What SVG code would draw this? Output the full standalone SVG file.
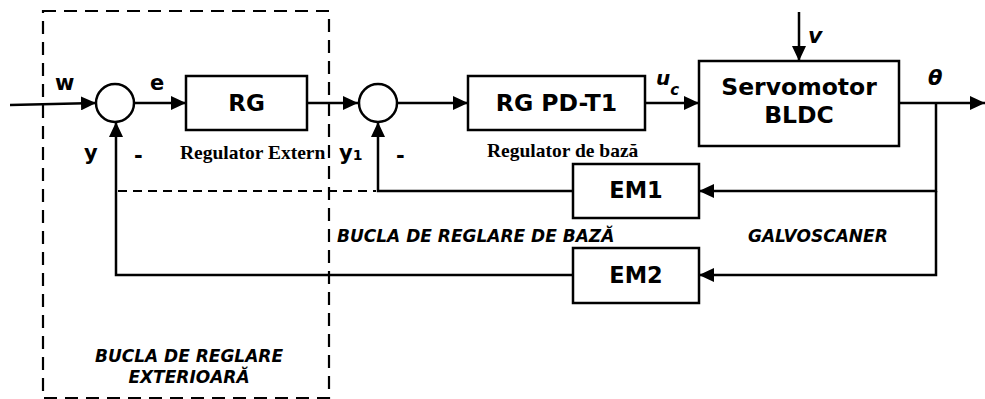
<svg xmlns="http://www.w3.org/2000/svg" width="985" height="399" viewBox="0 0 985 399">
<style>
.box{fill:#fff;stroke:#000;stroke-width:2.5}
.ln{fill:none;stroke:#000;stroke-width:2.5}
.dash{fill:none;stroke:#000;stroke-width:2.2;stroke-dasharray:13 8}
.t{font-family:"DejaVu Sans",Verdana,sans-serif;font-weight:bold;fill:#000}
.bi{font-family:"DejaVu Sans",Verdana,sans-serif;font-weight:bold;font-style:italic;fill:#000}
.s{font-family:"Liberation Serif","Times New Roman",serif;font-weight:bold;fill:#000}
</style>
<defs>
<marker id="ah" markerUnits="userSpaceOnUse" markerWidth="15" markerHeight="14" refX="15" refY="7" orient="auto">
<path d="M0,0 L15,7 L0,14 z" fill="#000"/>
</marker>
</defs>
<rect x="0" y="0" width="985" height="399" fill="#fff"/>
<g id="outer-loop-frame">
<rect class="dash" x="43" y="11" width="286" height="387"/>
</g>
<g id="connectors">
<line class="ln" x1="10" y1="105" x2="96" y2="103" marker-end="url(#ah)"/>
<line class="ln" x1="134" y1="103" x2="186" y2="103" marker-end="url(#ah)"/>
<line class="ln" x1="307" y1="103" x2="358" y2="103" marker-end="url(#ah)"/>
<line class="ln" x1="397" y1="103" x2="468" y2="103" marker-end="url(#ah)"/>
<line class="ln" x1="645" y1="103" x2="699" y2="103" marker-end="url(#ah)"/>
<line class="ln" x1="799" y1="12" x2="799" y2="61" marker-end="url(#ah)"/>
<line class="ln" x1="899" y1="103" x2="985" y2="103" marker-end="url(#ah)"/>
<polyline class="ln" points="936,103 936,191 699,191" marker-end="url(#ah)"/>
<polyline class="ln" points="936,191 936,275 699,275" marker-end="url(#ah)"/>
<polyline class="ln" points="573,191 378,191 378,122" marker-end="url(#ah)"/>
<polyline class="ln" points="573,275 116,275 116,122" marker-end="url(#ah)"/>
<line class="dash" x1="118" y1="191" x2="376" y2="191" style="stroke-dasharray:9 6"/>
</g>
<g id="sum1"><circle class="box" cx="115" cy="103" r="19"/></g>
<g id="sum2"><circle class="box" cx="378" cy="103" r="19"/></g>
<g id="RG">
<rect class="box" x="186" y="76" width="121" height="54"/>
<text class="t" x="246.5" y="111" font-size="23" text-anchor="middle">RG</text>
</g>
<g id="RGPDT1">
<rect class="box" x="468" y="76" width="177" height="54"/>
<text class="t" x="556.5" y="111" font-size="23.5" text-anchor="middle">RG PD-T1</text>
</g>
<g id="servomotor">
<rect class="box" x="699" y="61" width="200" height="85"/>
<text class="t" x="799" y="95" font-size="23.5" text-anchor="middle">Servomotor</text>
<text class="t" x="799" y="123" font-size="23.5" text-anchor="middle">BLDC</text>
</g>
<g id="EM1">
<rect class="box" x="573" y="164" width="126" height="54"/>
<text class="t" x="636" y="198" font-size="22.5" text-anchor="middle">EM1</text>
</g>
<g id="EM2">
<rect class="box" x="573" y="248" width="126" height="55"/>
<text class="t" x="636" y="283" font-size="22.5" text-anchor="middle">EM2</text>
</g>
<g id="labels">
<text class="t" x="55" y="90" font-size="21">w</text>
<text class="t" x="150" y="90" font-size="21">e</text>
<text class="t" x="84" y="160" font-size="21">y</text>
<text class="t" x="134" y="163" font-size="21">-</text>
<text class="t" x="339" y="160" font-size="21">y<tspan font-size="14">1</tspan></text>
<text class="t" x="396" y="163" font-size="21">-</text>
<text class="s" x="180" y="159" font-size="19.5">Regulator Extern</text>
<text class="s" x="487" y="157" font-size="19.5">Regulator de bază</text>
<text class="bi" x="656" y="85" font-size="20">u<tspan font-size="15" dy="10">c</tspan></text>
<text class="bi" x="808" y="43" font-size="22">v</text>
<text class="bi" x="928" y="85" font-size="21">θ</text>
<text class="bi" x="337" y="242" font-size="17">BUCLA DE REGLARE DE BAZĂ</text>
<text class="bi" x="748" y="242" font-size="17">GALVOSCANER</text>
<text class="bi" x="189" y="362" font-size="17" text-anchor="middle">BUCLA DE REGLARE</text>
<text class="bi" x="189" y="383" font-size="17" text-anchor="middle">EXTERIOARĂ</text>
</g>
</svg>
